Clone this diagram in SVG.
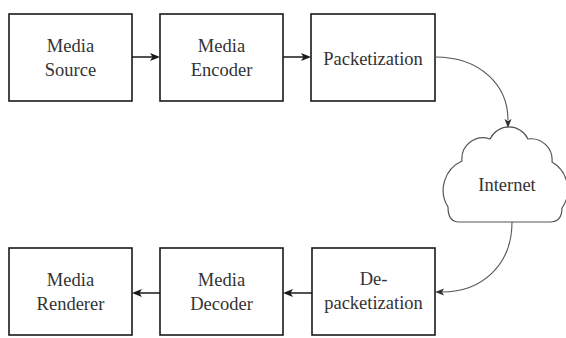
<svg xmlns="http://www.w3.org/2000/svg" width="566" height="338" viewBox="0 0 566 338">
  <style>
    .box { fill: #fff; stroke: #1a1a1a; stroke-width: 1.6; }
    .label { font-size: 18.5px; fill: #333; text-anchor: middle; }
    .link { fill: none; stroke: #1a1a1a; stroke-width: 1.5; }
    .head { fill: #1a1a1a; stroke: none; }
    .curve { fill: none; stroke: #555; stroke-width: 1.1; }
    .head-thin { fill: #333; stroke: none; }
    .cloud { fill: #fff; stroke: #555; stroke-width: 1.2; }
  </style>
  <rect width="566" height="338" fill="#fff"/>

  <!-- top row -->
  <g id="media-source">
    <rect class="box" x="9" y="14" width="123" height="87"/>
    <text class="label" font-family="Liberation Serif" x="70.5" y="52">Media</text>
    <text class="label" font-family="Liberation Serif" x="70.5" y="76">Source</text>
  </g>
  <g id="media-encoder">
    <rect class="box" x="160" y="14" width="123" height="87"/>
    <text class="label" font-family="Liberation Serif" x="221.5" y="52">Media</text>
    <text class="label" font-family="Liberation Serif" x="221.5" y="76">Encoder</text>
  </g>
  <g id="packetization">
    <rect class="box" x="311" y="14" width="124" height="87"/>
    <text class="label" font-family="Liberation Serif" x="373" y="65">Packetization</text>
  </g>

  <!-- network -->
  <g id="internet">
    <path class="cloud" d="M459,222 L550,222 Q562,222 562,208 A32,32 0 0 0 552,162 A21,21 0 0 0 528,139 A21,21 0 0 0 490,139 A21,21 0 0 0 462,161 A32,32 0 0 0 448,207 Q448,222 459,222 Z"/>
    <text class="label" font-family="Liberation Serif" x="507" y="191">Internet</text>
  </g>

  <!-- bottom row -->
  <g id="depacketization">
    <rect class="box" x="312" y="248" width="123" height="87"/>
    <text class="label" font-family="Liberation Serif" x="373.5" y="285">De-</text>
    <text class="label" font-family="Liberation Serif" x="373.5" y="309">packetization</text>
  </g>
  <g id="media-decoder">
    <rect class="box" x="160" y="248" width="123" height="87"/>
    <text class="label" font-family="Liberation Serif" x="221.5" y="286">Media</text>
    <text class="label" font-family="Liberation Serif" x="221.5" y="310">Decoder</text>
  </g>
  <g id="media-renderer">
    <rect class="box" x="9" y="248" width="123" height="87"/>
    <text class="label" font-family="Liberation Serif" x="70.5" y="286">Media</text>
    <text class="label" font-family="Liberation Serif" x="70.5" y="310">Renderer</text>
  </g>

  <!-- connectors, arrowheads drawn in place -->
  <g id="connectors">
    <line class="link" x1="132" y1="57" x2="153" y2="57"/>
    <path class="head" d="M160,57 L150,53 L152.5,57 L150,61 Z"/>
    <line class="link" x1="283" y1="57" x2="304" y2="57"/>
    <path class="head" d="M311,57 L301,53 L303.5,57 L301,61 Z"/>
    <path class="curve" d="M435,57 C480,57 508,85 508,120"/>
    <path class="head-thin" d="M508,128 L504.5,119 L508,121 L511.5,119 Z"/>
    <path class="curve" d="M512,222 C512,265 482,292 442,292"/>
    <path class="head-thin" d="M435,292 L444,288.5 L442,292 L444,295.5 Z"/>
    <line class="link" x1="312" y1="293" x2="290" y2="293"/>
    <path class="head" d="M283,293 L293,289 L290.5,293 L293,297 Z"/>
    <line class="link" x1="160" y1="293" x2="139" y2="293"/>
    <path class="head" d="M132,293 L142,289 L139.5,293 L142,297 Z"/>
  </g>
</svg>
